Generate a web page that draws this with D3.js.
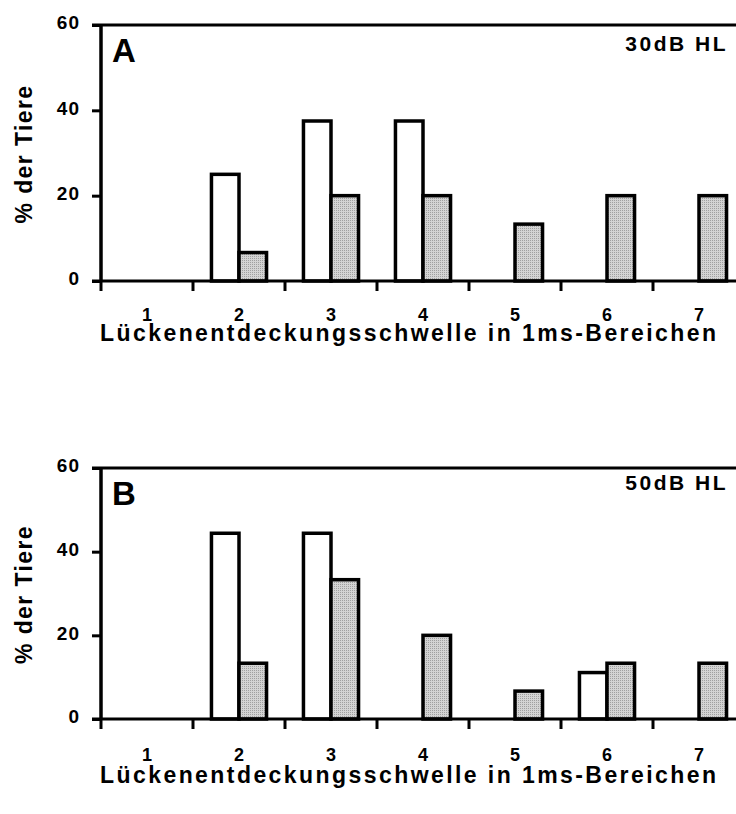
<!DOCTYPE html>
<html>
<head>
<meta charset="utf-8">
<script src="https://cdn.jsdelivr.net/npm/d3@7"></script>
<style>
  body { margin: 0; background: #fff; }
  svg { display: block; }
  text { font-family: "Liberation Sans", Arial, sans-serif; font-weight: bold; fill: #000; }
</style>
</head>
<body>
<svg id="chart"></svg>
<script>
// categories (1ms ranges) and series values, % of animals
var categories = ["1", "2", "3", "4", "5", "6", "7"];
var yTicks = [0, 20, 40, 60];

var whiteA = [0, 25, 37.5, 37.5, 0, 0, 0];
var greyA = [0, 6.67, 20, 20, 13.33, 20, 20];

var whiteB = [0, 44.4, 44.4, 0, 0, 11.1, 0];
var greyB = [0, 13.33, 33.3, 20, 6.67, 13.33, 13.33];

var panels = [
    { label: "A", level: "30dB HL", white: whiteA, grey: greyA, top: 25, zero: 281, levelDy: 26, tickDy: 40, titleDy: 60 },
    { label: "B", level: "50dB HL", white: whiteB, grey: greyB, top: 468, zero: 719, levelDy: 22, tickDy: 42, titleDy: 64 }
];

var width = 736,
    height = 814;

var svg = d3.select("#chart")
    .attr("width", width)
    .attr("height", height);

// stippled grey fill
var pat = svg.append("defs").append("pattern")
    .attr("id", "stipple")
    .attr("patternUnits", "userSpaceOnUse")
    .attr("width", 2)
    .attr("height", 2);
pat.append("rect").attr("width", 2).attr("height", 2).attr("fill", "#d4d4d4");
pat.append("rect").attr("width", 1).attr("height", 1).attr("fill", "#a0a0a0");

var x = d3.scaleBand()
    .domain(categories)
    .range([101, 745])
    .padding(0);

var inner = d3.scaleBand()
    .domain(["white", "grey"])
    .range([0, x.bandwidth()])
    .paddingInner(0)
    .paddingOuter(0.67);

panels.forEach(function(p) {
    var y = d3.scaleLinear()
        .domain([0, 60])
        .range([p.zero, p.top]);

    var g = svg.append("g");

    // bars
    var rows = [];
    categories.forEach(function(c, i) {
        rows.push({ cat: c, key: "white", v: p.white[i] });
        rows.push({ cat: c, key: "grey", v: p.grey[i] });
    });

    g.selectAll(".bar")
        .data(rows.filter(function(d) { return d.v > 0; }))
        .enter().append("rect")
        .attr("class", "bar")
        .attr("x", function(d) { return x(d.cat) + inner(d.key); })
        .attr("y", function(d) { return y(d.v); })
        .attr("width", inner.bandwidth())
        .attr("height", function(d) { return y(0) - y(d.v); })
        .attr("fill", function(d) { return d.key == "white" ? "#fff" : "url(#stipple)"; })
        .attr("stroke", "#000")
        .attr("stroke-width", 3.5);

    // y axis
    var yAxis = g.append("g")
        .attr("transform", "translate(101,0)")
        .call(d3.axisLeft(y).tickValues(yTicks).tickSize(9).tickPadding(12));
    yAxis.select(".domain").attr("stroke-width", 3.5).attr("d", "M0," + y(60) + "V" + y(0));
    yAxis.selectAll(".tick line").attr("stroke-width", 3);
    yAxis.selectAll(".tick text")
        .style("font-size", "19px")
        .style("letter-spacing", "1px")
        .attr("dy", "0.2em");

    // top frame line at 60
    g.append("line")
        .attr("x1", 92).attr("x2", 745)
        .attr("y1", y(60)).attr("y2", y(60))
        .attr("stroke", "#000").attr("stroke-width", 3);

    // x axis
    var xAxis = g.append("g")
        .attr("transform", "translate(0," + y(0) + ")");
    xAxis.append("line")
        .attr("x1", 92).attr("x2", 745)
        .attr("stroke", "#000").attr("stroke-width", 3);
    xAxis.selectAll(".xtick")
        .data(categories)
        .enter().append("line")
        .attr("class", "xtick")
        .attr("x1", function(d) { return x(d); })
        .attr("x2", function(d) { return x(d); })
        .attr("y1", 0).attr("y2", 10)
        .attr("stroke", "#000").attr("stroke-width", 3);
    xAxis.selectAll(".xlab")
        .data(categories)
        .enter().append("text")
        .attr("class", "xlab")
        .attr("x", function(d) { return x(d) + x.bandwidth() / 2; })
        .attr("y", p.tickDy)
        .attr("text-anchor", "middle")
        .style("font-size", "18px")
        .text(function(d) { return d; });

    // x title
    g.append("text")
        .attr("x", 100)
        .attr("y", p.zero + p.titleDy)
        .attr("textLength", 616)
        .attr("lengthAdjust", "spacing")
        .style("font-size", "23px")
        .text("Lückenentdeckungsschwelle in 1ms-Bereichen");

    // y title
    g.append("text")
        .attr("transform", "translate(32," + ((p.top + p.zero) / 2 + 1) + ") rotate(-90)")
        .attr("text-anchor", "middle")
        .style("font-size", "23px")
        .style("letter-spacing", "1.4px")
        .text("% der Tiere");

    // panel letter and level
    g.append("text")
        .attr("x", 112)
        .attr("y", p.top + 37)
        .style("font-size", "33px")
        .text(p.label);

    g.append("text")
        .attr("x", 728)
        .attr("y", p.top + p.levelDy)
        .attr("text-anchor", "end")
        .style("font-size", "21px")
        .style("letter-spacing", "2.5px")
        .text(p.level);
});
</script>
</body>
</html>
